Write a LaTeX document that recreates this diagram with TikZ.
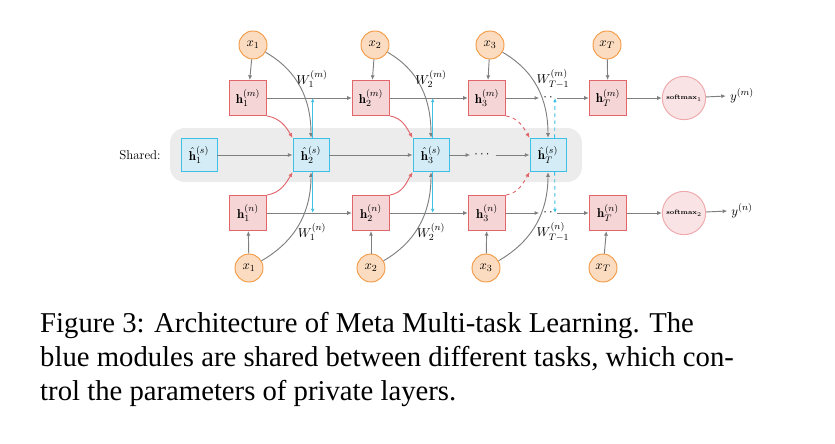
\documentclass[tikz,border=0pt]{standalone}
\usepackage{fontspec}
\usepackage{amsmath}
\newfontfamily\capfont{Liberation Serif}
\usetikzlibrary{arrows.meta}
\definecolor{rfill}{HTML}{F6D5D6}\definecolor{rdraw}{HTML}{E0666C}
\definecolor{bfill}{HTML}{D3ECF5}\definecolor{bdraw}{HTML}{3FBFE6}
\definecolor{ofill}{HTML}{FCDCC0}\definecolor{odraw}{HTML}{F39A45}
\definecolor{gline}{HTML}{7F7F7F}\definecolor{sfill}{HTML}{F9E3E4}\definecolor{sdraw}{HTML}{EFA8AB}
\tikzset{
 px/.style={x=0.03cm,y=-0.03cm},
 lab/.style={font=\fontsize{11}{12}\selectfont},
 hb/.style={lab,draw=rdraw,fill=rfill,line width=0.8pt,minimum width=1.12cm,minimum height=1.05cm,inner sep=0pt},
 sb/.style={lab,draw=bdraw,fill=bfill,line width=0.8pt,minimum width=1.08cm,minimum height=1.0cm,inner sep=0pt},
 xc/.style={lab,circle,draw=odraw,fill=ofill,line width=0.8pt,minimum size=0.84cm,inner sep=0pt},
 smx/.style={circle,draw=sdraw,fill=sfill,line width=0.8pt,minimum size=1.3cm,inner sep=0pt,font=\fontsize{5.5}{6}\selectfont\bfseries},
 ga/.style={draw=gline,line width=0.8pt,-{Latex[length=4pt,width=3.5pt]}},
 ra/.style={draw=rdraw,line width=0.8pt,-{Latex[length=4pt,width=3.5pt]}},
 ba/.style={draw=bdraw,line width=0.8pt,-{Latex[length=3.5pt,width=3pt]}},
 wl/.style={lab,inner sep=1pt},
 captxt/.style={anchor=west,font=\capfont\fontsize{24.5}{28}\selectfont,inner sep=0pt},
}
\begin{document}
\begin{tikzpicture}[px]
\useasboundingbox (0,0) rectangle (835,443);
\fill[gray!15,rounded corners=0.45cm] (170,128) rectangle (582,182);
\node[lab] (shl) at (140,155) {Shared:};
\foreach \n/\x/\t in {1/253/x_1,2/375/x_2,3/490/x_3,T/607/x_T}{
 \node[xc] (xt\n) at (\x,45) {$\t$};
 \node[xc] (xb\n) at (\x-4,268) {$\t$};}
\foreach \n/\x/\i in {1/248/1,2/371/2,3/487/3,T/608/T}{
 \node[hb] (hm\n) at (\x,98) {$\mathbf{h}_{\i}^{(m)}$};
 \node[hb] (hn\n) at (\x,213) {$\mathbf{h}_{\i}^{(n)}$};}
\foreach \n/\x/\i in {1/199/1,2/311/2,3/431/3,T/548/T}{
 \node[sb] (hs\n) at (\x,155) {$\hat{\mathbf{h}}_{\i}^{(s)}$};}
\node[lab] (sdots) at (483,155) {$\cdots$};
\node[lab] (mdots) at (548,98) {$\cdot\,\cdot$};
\node[lab] (ndots) at (548,213) {$\cdot\,\cdot$};
\node[smx] (sm1) at (684,98) {softmax$_1$};
\node[smx] (sm2) at (684,213) {softmax$_2$};
\node[lab] (ym) at (742,96) {$y^{(m)}$};
\node[lab] (yn) at (742,211) {$y^{(n)}$};
\foreach \n in {1,2,3,T}{\draw[ga] (xt\n) -- (hm\n); \draw[ga] (xb\n) -- (hn\n);}
\draw[ga] (hm1) -- (hm2); \draw[ga] (hm2) -- (hm3); \draw[ga] (hm3) -- (mdots); \draw[ga] (mdots) -- (hmT);
\draw[ga] (hn1) -- (hn2); \draw[ga] (hn2) -- (hn3); \draw[ga] (hn3) -- (ndots); \draw[ga] (ndots) -- (hnT);
\draw[ga] (hs1) -- (hs2); \draw[ga] (hs2) -- (hs3); \draw[ga] (hs3) -- (sdots); \draw[ga] (sdots) -- (hsT);
\draw[ga] (hmT) -- (sm1); \draw[ga] (sm1) -- (ym.west);
\draw[ga] (hnT) -- (sm2); \draw[ga] (sm2) -- (yn.west);
\draw[ga] (xt1) to[out=-30,in=90] (hs2.north);
\draw[ga] (xt2) to[out=-30,in=90] (hs3.north);
\draw[ga] (xt3) to[out=-30,in=90] (hsT.north);
\draw[ga] (xb1) to[out=30,in=-90] (hs2.south);
\draw[ga] (xb2) to[out=30,in=-90] (hs3.south);
\draw[ga] (xb3) to[out=30,in=-90] (hsT.south);
\draw[ra] (hm1.south east) to[out=-10,in=120] (hs2.north west);
\draw[ra] (hm2.south east) to[out=-10,in=120] (hs3.north west);
\draw[ra,dashed] (hm3.south east) to[out=-10,in=120] (hsT.north west);
\draw[ra] (hn1.north east) to[out=10,in=-120] (hs2.south west);
\draw[ra] (hn2.north east) to[out=10,in=-120] (hs3.south west);
\draw[ra,dashed] (hn3.north east) to[out=10,in=-120] (hsT.south west);
\foreach \s/\x in {2/311,3/431}{
 \coordinate (bu\s) at (\x,98); \coordinate (bd\s) at (\x,213);
 \draw[ba] ([xshift=0.05cm]hs\s.north) -- ([xshift=0.05cm]bu\s);
 \draw[ba] ([xshift=0.05cm]hs\s.south) -- ([xshift=0.05cm]bd\s);}
\coordinate (buT) at (555,98); \coordinate (bdT) at (555,213);
\draw[ba,dashed] ([xshift=0.2cm]hsT.north) -- (buT);
\draw[ba,dashed] ([xshift=0.2cm]hsT.south) -- (bdT);
\node[wl] (w1m) at (312,79) {$W_1^{(m)}$};
\node[wl] (w2m) at (431,79) {$W_2^{(m)}$};
\node[wl] (wTm) at (553,79) {$W_{T-1}^{(m)}$};
\node[wl] (w1n) at (312,232) {$W_1^{(n)}$};
\node[wl] (w2n) at (431,232) {$W_2^{(n)}$};
\node[wl] (wTn) at (553,232) {$W_{T-1}^{(n)}$};
\node[captxt] (c1) at (40,325) {Figure 3: Architecture of Meta Multi-task Learning. The};
\node[captxt] (c2) at (40,359) {blue modules are shared between different tasks, which con-};
\node[captxt] (c3) at (40,393) {trol the parameters of private layers.};
\end{tikzpicture}
\end{document}
